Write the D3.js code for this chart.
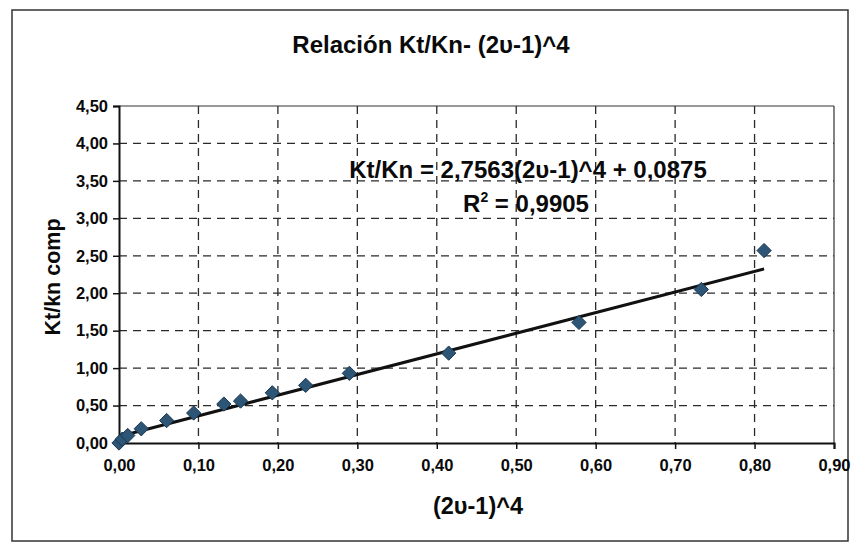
<!DOCTYPE html>
<html>
<head>
<meta charset="utf-8">
<script src="https://cdn.jsdelivr.net/npm/d3@7"></script>
<style>
html,body{margin:0;padding:0;background:#fff;}
svg text{font-family:"Liberation Sans",Arial,sans-serif;font-weight:bold;fill:#0a0a0a;}
</style>
</head>
<body>
<script>
const titleText = "Relación Kt/Kn- (2υ-1)^4";
const xLabel = "(2υ-1)^4";
const yLabel = "Kt/kn comp";
const xData = [0.000, 0.004, 0.011, 0.028, 0.060, 0.094, 0.132, 0.153, 0.193, 0.235, 0.290, 0.415, 0.579, 0.733, 0.812];
const yData = [0.00, 0.05, 0.10, 0.19, 0.30, 0.40, 0.52, 0.56, 0.67, 0.77, 0.93, 1.20, 1.61, 2.05, 2.57];
const xTicks = [0, 0.1, 0.2, 0.3, 0.4, 0.5, 0.6, 0.7, 0.8, 0.9];
const yTicks = [0, 0.5, 1, 1.5, 2, 2.5, 3, 3.5, 4, 4.5];
const slope = 2.7563, intercept = 0.0875;
const eqText = "Kt/Kn = 2,7563(2υ-1)^4 + 0,0875";
const r2Value = "0,9905";

const W = 857, H = 544;
const L = 119, R = 834, T = 106, B = 443;
const fmt = v => d3.format(".2f")(v).replace(".", ",");

const svg = d3.select("body").append("svg").attr("width", W).attr("height", H);

// outer frame
svg.append("rect").attr("x", 12).attr("y", 10).attr("width", 836).attr("height", 531)
  .attr("fill", "none").attr("stroke", "#333").attr("stroke-width", 1.5);

const x = d3.scaleLinear().domain([0, 0.9]).range([L, R]);
const y = d3.scaleLinear().domain([0, 4.5]).range([B, T]);

// gridlines
svg.append("g").selectAll("line").data(yTicks.filter(d => d > 0 && d < 4.5)).join("line")
  .attr("x1", L).attr("x2", R).attr("y1", d => y(d)).attr("y2", d => y(d))
  .attr("stroke", "#2a2a2a").attr("stroke-width", 1.3).attr("stroke-dasharray", "8,6");
svg.append("g").selectAll("line").data(xTicks.filter(d => d > 0 && d < 0.9)).join("line")
  .attr("x1", d => x(d)).attr("x2", d => x(d)).attr("y1", T).attr("y2", B)
  .attr("stroke", "#2a2a2a").attr("stroke-width", 1.3).attr("stroke-dasharray", "8,6");

// plot frame top/right
svg.append("line").attr("x1", L).attr("x2", R).attr("y1", T).attr("y2", T).attr("stroke", "#333").attr("stroke-width", 1.2);
svg.append("line").attr("x1", R).attr("x2", R).attr("y1", T).attr("y2", B).attr("stroke", "#333").attr("stroke-width", 1.2);

// axes
const xAxis = svg.append("g").attr("transform", `translate(0,${B})`)
  .call(d3.axisBottom(x).tickValues(xTicks).tickFormat(fmt).tickSize(6).tickPadding(10));
const yAxis = svg.append("g").attr("transform", `translate(${L},0)`)
  .call(d3.axisLeft(y).tickValues(yTicks).tickFormat(fmt).tickSize(6).tickPadding(5));
[xAxis, yAxis].forEach(g => {
  g.select(".domain").attr("stroke", "#111").attr("stroke-width", 2);
  g.selectAll(".tick line").attr("stroke", "#111").attr("stroke-width", 1.5);
  g.selectAll(".tick text").style("font-size", "16.5px").style("font-family", "Liberation Sans, Arial, sans-serif").style("font-weight", "bold").attr("fill", "#0a0a0a");
});

// trend line
const x0 = 0, x1 = d3.max(xData);
svg.append("line")
  .attr("x1", x(x0)).attr("y1", y(slope * x0 + intercept))
  .attr("x2", x(x1)).attr("y2", y(slope * x1 + intercept))
  .attr("stroke", "#111").attr("stroke-width", 3);

// markers
const pts = xData.map((v, i) => ({x: v, y: yData[i]}));
svg.append("g").selectAll("path").data(pts).join("path")
  .attr("transform", d => `translate(${x(d.x)},${y(d.y)})`)
  .attr("d", d3.symbol(d3.symbolDiamond2, 130)())
  .attr("fill", "#2d5576").attr("stroke", "#1b3650").attr("stroke-width", 1);

// texts
svg.append("text").attr("x", 431).attr("y", 53).attr("text-anchor", "middle").style("font-size", "24px").text(titleText);
svg.append("text").attr("x", 528).attr("y", 178).attr("text-anchor", "middle").style("font-size", "24px").text(eqText);
const r2 = svg.append("text").attr("x", 526).attr("y", 212).attr("text-anchor", "middle").style("font-size", "24px");
r2.append("tspan").text("R");
r2.append("tspan").attr("dy", -10).style("font-size", "14px").text("2");
r2.append("tspan").attr("dy", 10).text(" = " + r2Value);
svg.append("text").attr("x", 478).attr("y", 514).attr("text-anchor", "middle").style("font-size", "23.5px").text(xLabel);
svg.append("text").attr("transform", "translate(60,277) rotate(-90)").attr("text-anchor", "middle").style("font-size", "21.5px").text(yLabel);
</script>
</body>
</html>
